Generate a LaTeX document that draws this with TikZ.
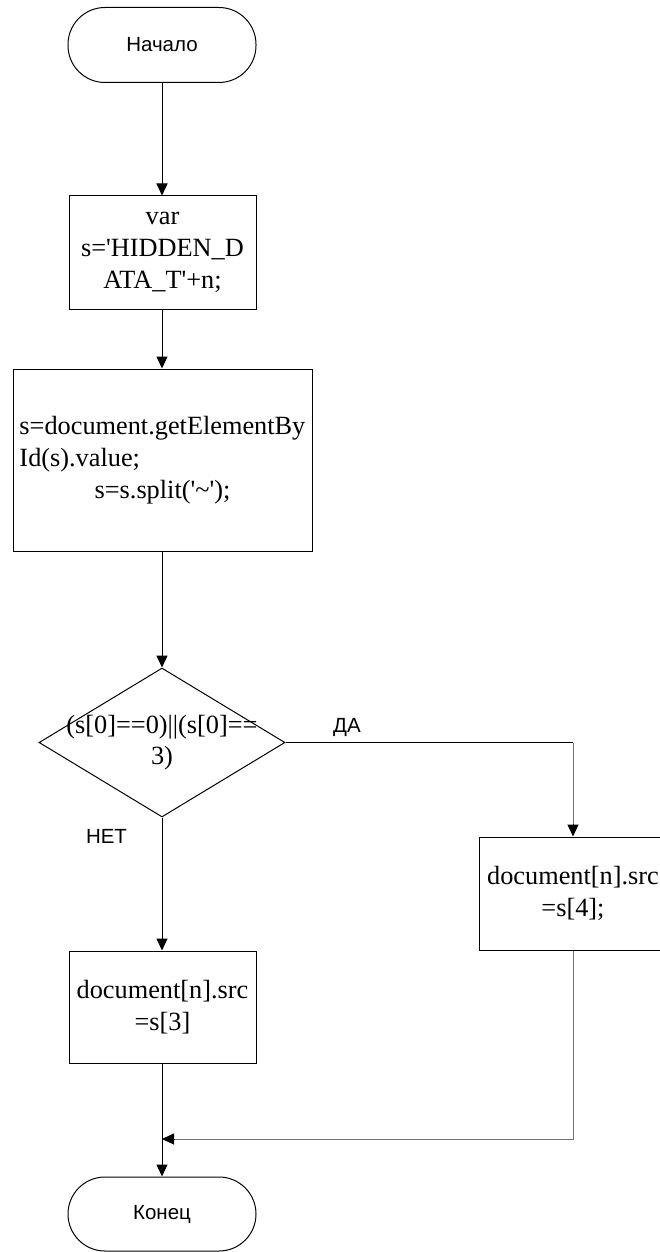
\documentclass[tikz,border=0pt]{standalone}
\usepackage{fontspec}
\setmainfont{Liberation Serif}[Ligatures=TeXOff]
\newfontfamily\labelfont{Liberation Sans}
\usetikzlibrary{arrows.meta,shapes.geometric}

\tikzset{
  flow/.style={line width=1pt, draw=black},
  arr/.style={flow, -{Triangle[length=12pt,width=11pt]}},
  grayline/.style={line width=1pt, draw=black!55},
  terminal/.style={draw, line width=1pt, rectangle, rounded corners=37pt,
    minimum width=188pt, minimum height=75pt, inner sep=0pt,
    font=\labelfont\fontsize{20.5}{24}\selectfont},
  procbox/.style={draw, line width=1pt, rectangle, inner sep=0pt,
    align=center, font=\fontsize{26.3}{32}\selectfont},
  decision/.style={draw, line width=1pt, diamond, inner sep=0pt},
  serif/.style={align=center, font=\fontsize{26.3}{31}\selectfont, inner sep=0pt},
  tag/.style={font=\labelfont\fontsize{20.5}{24}\selectfont, inner sep=0pt}
}

\begin{document}
\begin{tikzpicture}[x=1pt,y=-1pt]
  \useasboundingbox (0,0) rectangle (660,1252);

  % start / end
  \node[terminal] (start) at (162,45) {Начало};
  \node[terminal, minimum height=74pt] (stop) at (162,1214) {Конец};

  % process blocks
  \node[procbox, minimum width=187pt, minimum height=113pt] (init) at (162.5,252.5)
    {var\\s='HIDDEN\_D\\ATA\_T'+n;};
  \node[procbox, minimum width=299pt, minimum height=182pt, align=left] (split) at (162.5,460)
    {s=document.getElementBy\\Id(s).value;\\\makebox[286pt][c]{s=s.split('\textasciitilde');}};

  % decision
  \node[decision, minimum width=246pt, minimum height=149pt] (cond) at (162,742.5) {};
  \node[serif] (condtext) at (162,742.5) {(s[0]==0)||(s[0]==\\3)};

  % branches
  \node[procbox, minimum width=187pt, minimum height=112pt] (no) at (162.5,1007)
    {document[n].src\\=s[3]};
  \node[procbox, minimum width=188pt, minimum height=113pt] (yes) at (573,893.5)
    {document[n].src\\=s[4];};

  \node[tag] (yeslabel) at (347,727) {ДА};
  \node[tag] (nolabel) at (106.5,836) {НЕТ};

  \coordinate (merge) at (162,1139);

  % connectors
  \draw[arr] (start.south) -- (init.north -| start.south);
  \draw[arr] (init.south -| start.south) -- (split.north -| start.south);
  \draw[arr] (split.south -| start.south) -- (cond.north);
  \draw[arr] (cond.south) -- (no.north -| cond.south);
  \draw[flow] (cond.east) -- (cond.east -| yes.north);
  \draw[grayline] (cond.east -| yes.north) -- ([yshift=12pt]yes.north);
  \draw[arr] ([yshift=12.5pt]yes.north) -- (yes.north);
  \draw[arr] (no.south -| start.south) -- (stop.north);
  \draw[grayline] (yes.south) |- ([xshift=12pt]merge);
  \draw[arr] ([xshift=12.5pt]merge) -- (merge);
\end{tikzpicture}
\end{document}
